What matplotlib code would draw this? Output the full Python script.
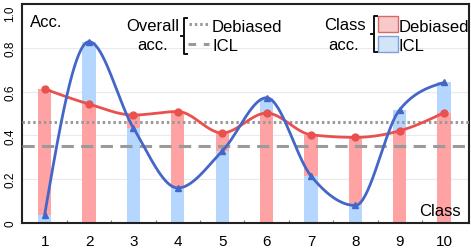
import numpy as np
import matplotlib
matplotlib.use('Agg')
import matplotlib.pyplot as plt
from matplotlib.lines import Line2D
from matplotlib.patches import Rectangle

classes = [1, 2, 3, 4, 5, 6, 7, 8, 9, 10]
debiased_acc = [0.612, 0.543, 0.493, 0.509, 0.411, 0.502, 0.403, 0.391, 0.421, 0.504]
icl_acc = [0.037, 0.828, 0.434, 0.160, 0.328, 0.572, 0.215, 0.080, 0.518, 0.642]
overall_debiased = 0.462
overall_icl = 0.353
y_ticks = [0, 0.2, 0.4, 0.6, 0.8, 1.0]
y_tick_labels = ['0', '0.2', '0.4', '0.6', '0.8', '1.0']

RED = '#e9514f'
BLUE = '#4466c6'
PINK_BAR = '#ffa2a4'
BLUE_BAR = '#b5d7ff'
GREY = '#9a9a9a'
DOTTED = (0, (0.8, 0.95))

W, H = 471, 251


def monotone_curve(x, y, n=40):
    # monotone cubic (d3 curveMonotoneX style) through the data points
    x = np.asarray(x, float)
    y = np.asarray(y, float)
    h = np.diff(x)
    s = np.diff(y) / h
    t = np.zeros(len(x))
    for i in range(1, len(x) - 1):
        s0, s1 = s[i - 1], s[i]
        p = (s0 * h[i] + s1 * h[i - 1]) / (h[i - 1] + h[i])
        t[i] = (np.sign(s0) + np.sign(s1)) * min(abs(s0), abs(s1), 0.5 * abs(p))
    t[0] = (3 * s[0] - t[1]) / 2
    t[-1] = (3 * s[-1] - t[-2]) / 2
    xs, ys = [], []
    u = np.linspace(0, 1, n)
    for i in range(len(x) - 1):
        dx = h[i] / 3
        p0 = np.array([x[i], y[i]])
        p1 = np.array([x[i] + dx, y[i] + dx * t[i]])
        p2 = np.array([x[i + 1] - dx, y[i + 1] - dx * t[i + 1]])
        p3 = np.array([x[i + 1], y[i + 1]])
        b = ((1 - u) ** 3)[:, None] * p0 + (3 * (1 - u) ** 2 * u)[:, None] * p1 \
            + (3 * (1 - u) * u ** 2)[:, None] * p2 + (u ** 3)[:, None] * p3
        xs.append(b[:, 0])
        ys.append(b[:, 1])
    return np.concatenate(xs), np.concatenate(ys)


def fx(px):
    return px / W


def fy(py):
    return 1 - py / H


plt.rcParams['font.family'] = ['Liberation Sans', 'DejaVu Sans']

fig = plt.figure(figsize=(W / 100, H / 100), dpi=100)
ax = fig.add_axes([fx(22), fy(224), (469 - 22) / W, (224 - 5) / H])

for v in [0.2, 0.4, 0.6, 0.8]:
    ax.axhline(v, color='#e9e9f2', lw=0.8, zorder=0)

# bars: the shorter one sits in front of the taller one
for c, d, i in zip(classes, debiased_acc, icl_acc):
    zd, zi = (2.1, 2.0) if d < i else (2.0, 2.1)
    ax.bar(c, d, width=0.3, color=PINK_BAR, zorder=zd)
    ax.bar(c, i, width=0.3, color=BLUE_BAR, zorder=zi)

ax.axhline(overall_debiased, color=GREY, lw=2.2, ls=DOTTED, zorder=3)
ax.axhline(overall_icl, color=GREY, lw=2.2, ls=(0, (4, 2.4)), zorder=3)

cx, cy = monotone_curve(classes, debiased_acc)
ax.plot(cx, cy, color=RED, lw=2.0, zorder=4, solid_capstyle='round')
ax.plot(classes, debiased_acc, 'o', color=RED, ms=5, zorder=5)
cx, cy = monotone_curve(classes, icl_acc)
ax.plot(cx, cy, color=BLUE, lw=2.0, zorder=4, solid_capstyle='round')
ax.plot(classes, icl_acc, '^', color=BLUE, ms=4.5, zorder=5)

ax.set_xlim(0.49, 10.56)
ax.set_ylim(0, 1)
ax.set_xticks(classes)
ax.set_xticklabels([str(c) for c in classes], fontsize=11)
ax.set_xticks(np.arange(1.5, 10, 1), minor=True)
ax.tick_params(axis='x', which='major', length=0, pad=8)
ax.tick_params(axis='x', which='minor', length=2.5, direction='in', color='#777777', width=0.8)
ax.set_yticks(y_ticks)
ax.set_yticklabels(y_tick_labels, fontsize=8.5, rotation=90, va='center')
ax.get_yticklabels()[-1].set_va('top')
ax.tick_params(axis='y', length=0, pad=4)
for sp in ax.spines.values():
    sp.set_color('#222222')
    sp.set_linewidth(1.5)

fig.text(fx(30), fy(27), 'Acc.', fontsize=12, va='baseline')
fig.text(fx(419), fy(216), 'Class', fontsize=12, va='baseline', zorder=6)

# overall acc. legend
fig.text(fx(152.5), fy(31), 'Overall', fontsize=12, ha='center', va='baseline')
fig.text(fx(152.5), fy(50), 'acc.', fontsize=12, ha='center', va='baseline')
fig.add_artist(Line2D([fx(187), fx(184), fx(184), fx(187)], [fy(19), fy(19), fy(55), fy(55)],
                      color='#111111', lw=1.4))
fig.add_artist(Line2D([fx(184), fx(181)], [fy(37), fy(37)], color='#111111', lw=1.4))
fig.add_artist(Line2D([fx(189), fx(208)], [fy(25), fy(25)], color=GREY, lw=2.2, ls=DOTTED))
fig.add_artist(Line2D([fx(188), fx(209)], [fy(45), fy(45)], color=GREY, lw=2.2, ls=(0, (2.5, 2.5))))
fig.text(fx(212), fy(32), 'Debiased', fontsize=12, va='baseline')
fig.text(fx(212), fy(51), 'ICL', fontsize=12, va='baseline')

# class acc. legend
fig.text(fx(345), fy(30), 'Class', fontsize=12, ha='center', va='baseline')
fig.text(fx(344), fy(50), 'acc.', fontsize=12, ha='center', va='baseline')
fig.add_artist(Line2D([fx(377), fx(374), fx(374), fx(377)], [fy(17), fy(17), fy(53), fy(53)],
                      color='#111111', lw=1.4))
fig.add_artist(Line2D([fx(374), fx(371)], [fy(35), fy(35)], color='#111111', lw=1.4))
fig.add_artist(Rectangle((fx(378), fy(33)), fx(20), 16 / H, transform=fig.transFigure,
                         facecolor='#f8c9c9', edgecolor='#d56a6c', lw=1.0))
fig.add_artist(Rectangle((fx(378), fy(53)), fx(20), 16 / H, transform=fig.transFigure,
                         facecolor='#d3e3f8', edgecolor='#7ba2d8', lw=1.0))
fig.text(fx(399), fy(32), 'Debiased', fontsize=12, va='baseline')
fig.text(fx(399), fy(51), 'ICL', fontsize=12, va='baseline')

fig.savefig('out.png', dpi=100)
